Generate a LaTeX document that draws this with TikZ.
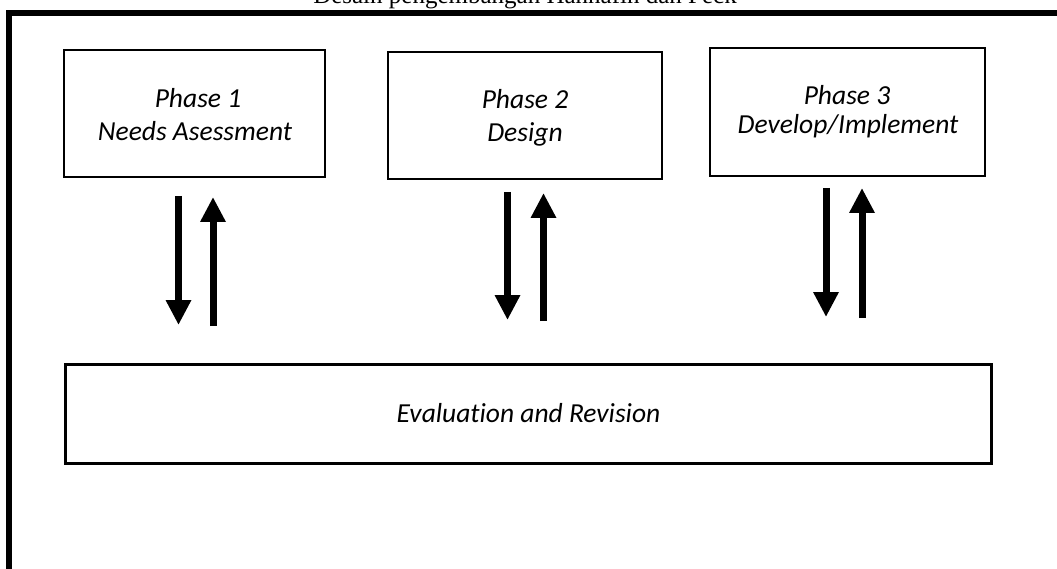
\documentclass[tikz,border=0pt]{standalone}
\usepackage{fontspec}
\setmainfont{Liberation Serif}
\newfontfamily\boxfont[Ligatures=CommonOff]{Carlito}
\usetikzlibrary{arrows.meta}
\tikzset{
  phasebox/.style={draw=black, line width=2pt, rectangle, inner sep=0pt, fill=white},
  evalbox/.style={draw=black, line width=2.6pt, rectangle, inner sep=0pt, fill=white},
  boxtext/.style={anchor=base, inner sep=0pt, font=\boxfont\itshape\fontsize{27.5}{33}\selectfont},
  titletext/.style={anchor=base, inner sep=0pt, font=\fontsize{25}{30}\selectfont},
  bigarrow/.style={line width=7pt, -{Triangle[width=24pt,length=25pt]}},
  framestyle/.style={line width=6pt, line join=miter}
}
\begin{document}
\begin{tikzpicture}[x=1pt,y=-1pt]
\useasboundingbox (0,0) rectangle (1057,569);
% frame
\coordinate (fbl) at (9,600);
\coordinate (ftl) at (9,13);
\coordinate (ftr) at (1100,13);
\draw[framestyle] (fbl) -- (ftl) -- (ftr);
% title (clipped at top, as in the reference)
\node[titletext] (title) at (525,3.5) {Desain pengembangan Hannafin dan Peck};
% boxes
\node[phasebox, minimum width=261pt, minimum height=127pt] (p1) at (194.5,113.5) {};
\node[phasebox, minimum width=274pt, minimum height=127pt] (p2) at (525,115.5) {};
\node[phasebox, minimum width=275pt, minimum height=128pt] (p3) at (847.5,112) {};
\node[evalbox, minimum width=926pt, minimum height=99pt] (ev) at (528.5,414) {};
% box texts
\node[boxtext] (p1a) at (198,108) {Phase 1};
\node[boxtext] (p1b) at (195,141) {Needs Asessment};
\node[boxtext] (p2a) at (525,109) {Phase 2};
\node[boxtext] (p2b) at (525,142) {Design};
\node[boxtext] (p3a) at (847,105) {Phase 3};
\node[boxtext] (p3b) at (848,134) {Develop/Implement};
\node[boxtext] (evt) at (528.5,422) {Evaluation and Revision};
% arrow end points
\coordinate (d1s) at (178.5,196); \coordinate (d1e) at (178.5,325);
\coordinate (u1s) at (213,326);   \coordinate (u1e) at (213,197);
\coordinate (d2s) at (507.5,192); \coordinate (d2e) at (507.5,320);
\coordinate (u2s) at (543.5,321); \coordinate (u2e) at (543.5,193);
\coordinate (d3s) at (826,188);   \coordinate (d3e) at (826,317);
\coordinate (u3s) at (862,318);   \coordinate (u3e) at (862,188);
\draw[bigarrow] (d1s) -- (d1e);
\draw[bigarrow] (u1s) -- (u1e);
\draw[bigarrow] (d2s) -- (d2e);
\draw[bigarrow] (u2s) -- (u2e);
\draw[bigarrow] (d3s) -- (d3e);
\draw[bigarrow] (u3s) -- (u3e);
\end{tikzpicture}
\end{document}
